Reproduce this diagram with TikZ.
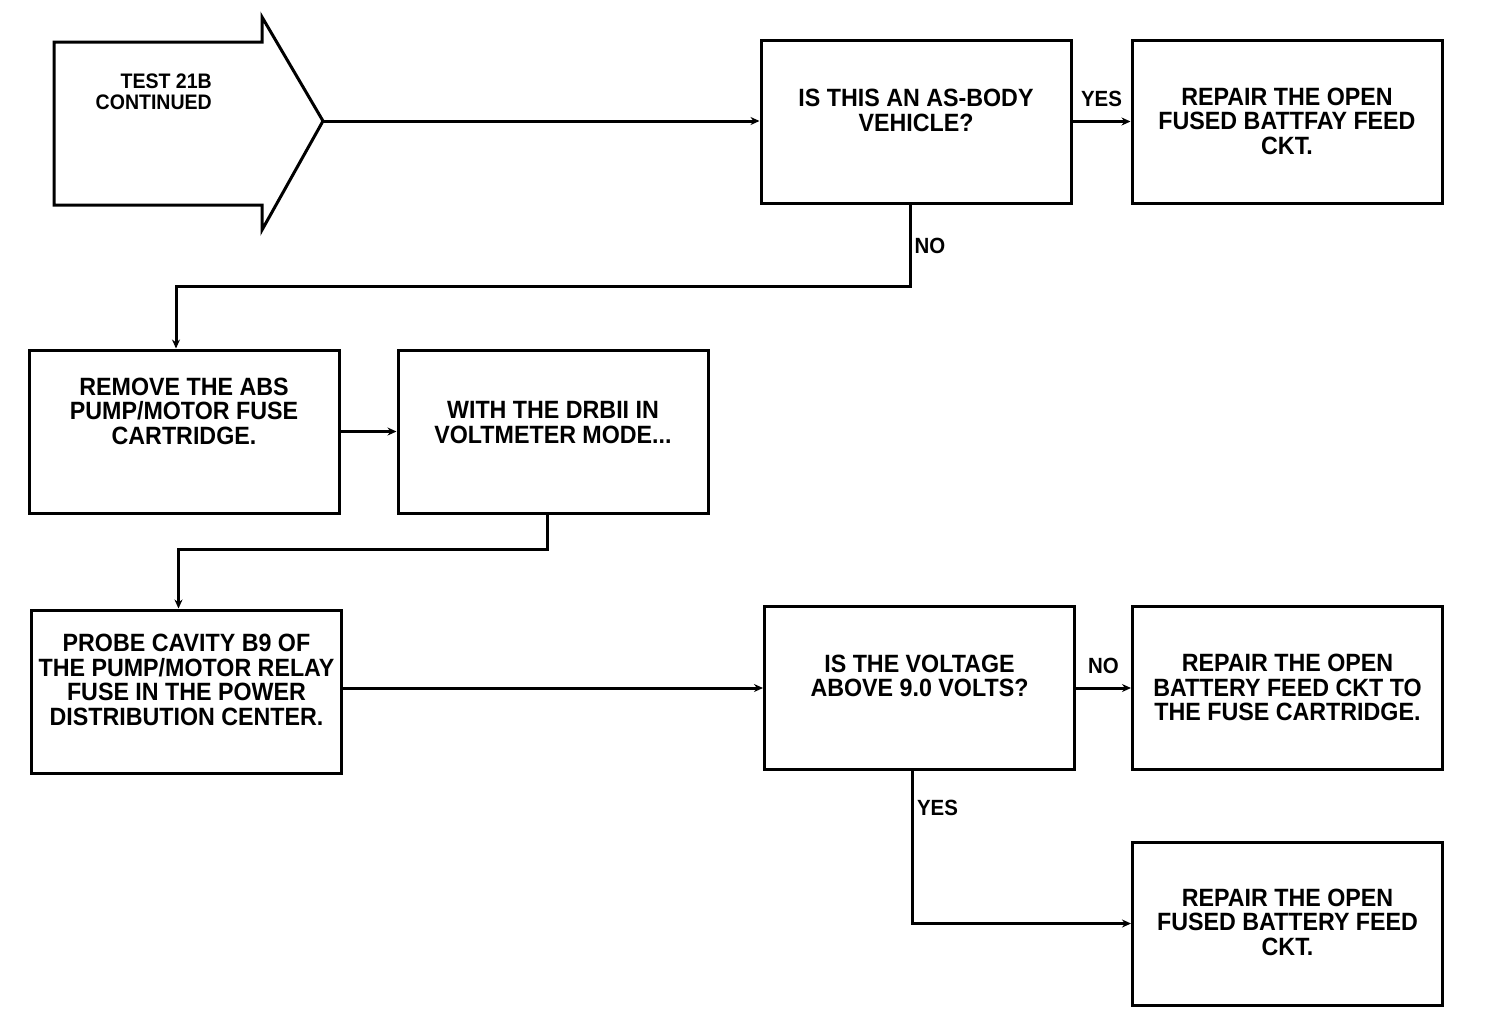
\documentclass[tikz,border=0pt]{standalone}
\usepackage{fontspec}
\setmainfont{Liberation Sans}[FakeStretch=0.93]
\usetikzlibrary{arrows.meta}
\usetikzlibrary{positioning}

\tikzset{
  box/.style={draw, line width=3pt, minimum width=310pt, minimum height=163pt,
    inner xsep=4pt, inner ysep=0pt, align=center,
    font=\fontsize{25}{24.5}\selectfont\bfseries},
  flow/.style={line width=3pt, -{Stealth[length=9pt,width=8pt]}},
  lbl/.style={font=\fontsize{22}{22}\selectfont\bfseries, inner sep=3pt}
}

\begin{document}
\begin{tikzpicture}[x=1pt, y=-1pt]
    \useasboundingbox (0,0) rectangle (1488,1010);
    % start arrow
    \draw[line width=3pt, line join=miter] (54,42) -- (262,42) -- (262,17) -- (323,121)
        -- (262,230) -- (262,205) -- (54,205) -- cycle;
    \coordinate (start) at (323,121);
    \node (testlbl) [anchor=north east, align=right, inner sep=0pt,
        font=\fontsize{21}{21}\selectfont\bfseries] at (212,74) {TEST 21B\\CONTINUED};

    \node (asbody) [box, text height=91pt, text depth=72pt] at (916,121.5) {IS THIS AN AS-BODY\\VEHICLE?};
    \node (fusedfeed) [box, text height=114pt, text depth=49pt, right=58pt of asbody] {REPAIR THE OPEN\\FUSED BATTFAY FEED\\CKT.};
    \node (removefuse) [box, text height=94pt, text depth=69pt] at (184,431.5) {REMOVE THE ABS\\PUMP/MOTOR FUSE\\CARTRIDGE.};
    \node (voltmode) [box, text height=93pt, text depth=70pt, right=56pt of removefuse] {WITH THE DRBII IN\\VOLTMETER MODE...};
    \node (probe) [box, text height=115pt, text depth=48pt] at (186.5,691.5) {PROBE CAVITY B9 OF\\THE PUMP/MOTOR RELAY\\FUSE IN THE POWER\\DISTRIBUTION CENTER.};
    \node (voltage) [box, text height=90pt, text depth=73pt] at (919.5,688) {IS THE VOLTAGE\\ABOVE 9.0 VOLTS?};
    \node (batfeed) [box, text height=114pt, text depth=49pt, right=55pt of voltage] {REPAIR THE OPEN\\BATTERY FEED CKT TO\\THE FUSE CARTRIDGE.};
    \node (fusedfeed2) [box, text height=113pt, text depth=50pt] at (1287.5,923.5) {REPAIR THE OPEN\\FUSED BATTERY FEED\\CKT.};

    \draw[flow] (start) -- (start -| asbody.west);
    \draw[flow] (asbody.east |- fusedfeed) -- (fusedfeed.west) node[lbl, midway, above=10pt] {YES};
    \draw[flow] ([xshift=-6pt]asbody.south) -- ++(0,82) node[lbl, midway, right] {NO}
        -| ([xshift=-8pt]removefuse.north);
    \draw[flow] (removefuse) -- (voltmode);
    \draw[flow] ([xshift=-6pt]voltmode.south) -- ++(0,35) -| ([xshift=-8pt]probe.north);
    \draw[flow] (probe.east |- voltage) -- (voltage.west);
    \draw[flow] (voltage) -- (batfeed) node[lbl, midway, above=10pt] {NO};
    \draw[flow] ([xshift=-7pt]voltage.south) |- (fusedfeed2.west) node[lbl, pos=0.12, right] {YES};
\end{tikzpicture}
\end{document}
